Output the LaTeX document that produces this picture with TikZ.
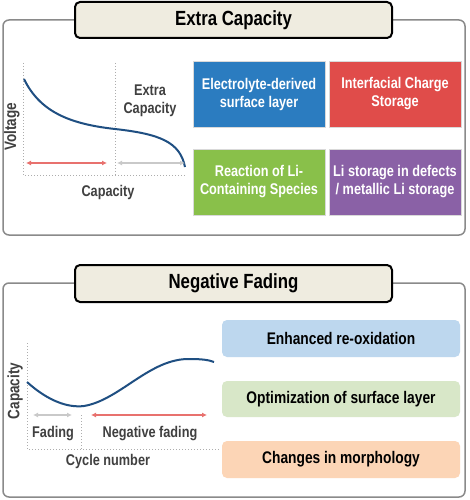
\documentclass[tikz,border=0pt]{standalone}
\usepackage{fontspec}
\setmainfont{Liberation Sans}
\newfontfamily\nar[FakeStretch=0.82]{Liberation Sans}
\usetikzlibrary{arrows.meta}
\definecolor{panelborder}{HTML}{8A8A8A}
\definecolor{titlefill}{HTML}{EFECE0}
\definecolor{curveblue}{HTML}{1F4F82}
\definecolor{arrred}{HTML}{E8716E}
\definecolor{arrgray}{HTML}{C9C9C9}
\definecolor{dotgray}{HTML}{ADADAD}
\definecolor{labgray}{HTML}{404040}
\definecolor{cblue}{HTML}{2B7CC0}
\definecolor{cred}{HTML}{E04C4A}
\definecolor{cgreen}{HTML}{89C04A}
\definecolor{cpurple}{HTML}{8A61A6}
\definecolor{lblue}{HTML}{BDD7EE}
\definecolor{lgreen}{HTML}{D8E7C8}
\definecolor{lorange}{HTML}{FCD5B6}
\tikzset{
  panel/.style={draw=panelborder, line width=1.5pt, rounded corners=6pt, fill=white},
  titlebox/.style={draw=black, line width=2pt, rounded corners=5pt, fill=titlefill},
  titletext/.style={font=\nar\bfseries\fontsize{20.5}{24}\selectfont},
  colbox/.style={draw=white!85!black, line width=0.6pt, text=white, align=center, inner sep=0pt,
    font=\nar\bfseries\fontsize{15.5}{18}\selectfont},
  lightbox/.style={rounded corners=5pt, text=black, align=center, inner sep=0pt,
    font=\nar\bfseries\fontsize{16.8}{20}\selectfont},
  axlabel/.style={text=labgray, align=center, inner sep=0pt, font=\nar\bfseries\fontsize{15.5}{18}\selectfont},
  ylabel/.style={text=labgray, inner sep=0pt, rotate=90, font=\nar\bfseries\fontsize{16.5}{18}\selectfont},
  dotline/.style={draw=dotgray, dotted, line width=1pt},
  curve/.style={draw=curveblue, line width=2pt},
  redarrow/.style={draw=arrred, line width=1.6pt, {Latex[length=5pt,width=5pt]}-{Latex[length=5pt,width=5pt]}},
  grayarrow/.style={draw=arrgray, line width=1.6pt, {Latex[length=5pt,width=5pt]}-{Latex[length=5pt,width=5pt]}}
}
\begin{document}
\begin{tikzpicture}[x=1pt,y=-1pt]
\useasboundingbox (0,0) rectangle (469,500);
\fill[white] (0,0) rectangle (469,500);

% ===== Top panel =====
\draw[panel] (3,20) rectangle (465,235);
\node[titlebox, minimum width=317pt, minimum height=36pt] (t1) at (233.5,20) {};
\node[titletext] (t1text) at (t1.center) {Extra Capacity};

% graph axes
\coordinate (a1top) at (23,63);
\coordinate (a1org) at (23,175);
\coordinate (a1end) at (185,175);
\coordinate (m1top) at (115,63);
\coordinate (m1bot) at (115,175);
\draw[dotline] (a1top) -- (a1org) -- (a1end);
\draw[dotline] (m1top) -- (m1bot);
\coordinate (c1s) at (24,79);
\coordinate (c1m) at (115,129);
\coordinate (c1e) at (185,167);
\draw[curve] (c1s) .. controls (40,112) and (70,124) .. (c1m) .. controls (160,134) and (180,142) .. (c1e);
\coordinate (r1a) at (26,163);
\coordinate (r1b) at (107,163);
\coordinate (g1a) at (117,163);
\coordinate (g1b) at (185,163);
\draw[redarrow] (r1a) -- (r1b);
\draw[grayarrow] (g1a) -- (g1b);
\node[ylabel] (volt) at (12,127) {Voltage};
\node[axlabel] (capx) at (108,192) {Capacity};
\node[axlabel] (extra) at (150,101) {Extra\\Capacity};

% coloured boxes
\node[colbox, fill=cblue, minimum width=132pt, minimum height=66pt] (b1) at (259,94) {Electrolyte-derived\\surface layer};
\node[colbox, fill=cred, minimum width=132pt, minimum height=66pt] (b2) at (395,94) {Interfacial Charge\\Storage};
\node[colbox, fill=cgreen, minimum width=132pt, minimum height=66pt] (b3) at (259,182) {Reaction of Li-\\Containing Species};
\node[colbox, fill=cpurple, minimum width=132pt, minimum height=66pt] (b4) at (395,182) {Li storage in defects\\/ metallic Li storage};

% ===== Bottom panel =====
\draw[panel] (3,283) rectangle (465,497);
\node[titlebox, minimum width=317pt, minimum height=37pt] (t2) at (233.5,283.5) {};
\node[titletext] (t2text) at (t2.center) {Negative Fading};

\coordinate (a2top) at (27,343);
\coordinate (a2org) at (27,449);
\coordinate (a2end) at (220,449);
\coordinate (m2top) at (81,415);
\coordinate (m2bot) at (81,449);
\draw[dotline] (a2top) -- (a2org) -- (a2end);
\draw[dotline] (m2top) -- (m2bot);
\coordinate (c2s) at (27,382);
\coordinate (c2m) at (84,406);
\coordinate (c2p) at (190,359);
\coordinate (c2e) at (214,362);
\draw[curve] (c2s) .. controls (48,401) and (68,408) .. (c2m) .. controls (120,400) and (150,358) .. (c2p) .. controls (202,359) and (209,360) .. (c2e);
\coordinate (g2a) at (33,415);
\coordinate (g2b) at (72,415);
\coordinate (r2a) at (91,415);
\coordinate (r2b) at (207,415);
\draw[grayarrow] (g2a) -- (g2b);
\draw[redarrow] (r2a) -- (r2b);
\node[ylabel] (capy) at (15,391) {Capacity};
\node[axlabel] (fad) at (53,434) {Fading};
\node[axlabel] (negf) at (150,434) {Negative fading};
\node[axlabel] (cyc) at (108,461) {Cycle number};

\node[lightbox, fill=lblue, minimum width=238pt, minimum height=37pt] (l1) at (341,338.5) {Enhanced re-oxidation};
\node[lightbox, fill=lgreen, minimum width=238pt, minimum height=36pt] (l2) at (341,399) {Optimization of surface layer};
\node[lightbox, fill=lorange, minimum width=238pt, minimum height=37pt] (l3) at (341,459.5) {Changes in morphology};
\end{tikzpicture}
\end{document}
